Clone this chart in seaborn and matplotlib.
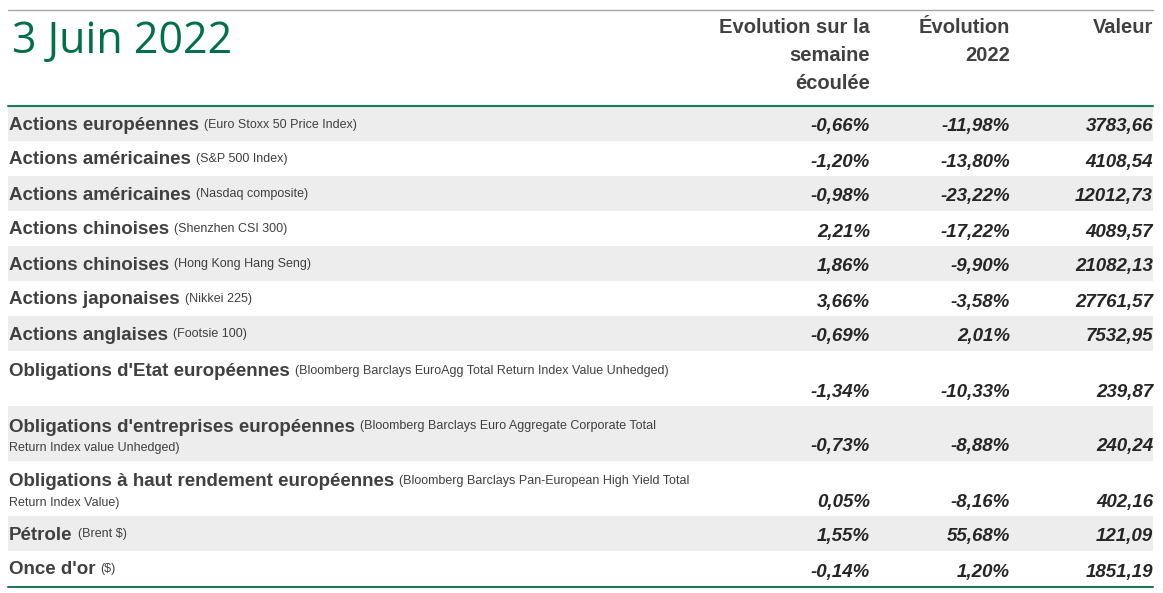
import matplotlib
matplotlib.use("Agg")
import matplotlib.pyplot as plt
import seaborn as sns

sns.set_style("white")
FONT = "Liberation Sans"

title = "3 Juin 2022"
headers = ["Evolution sur la\nsemaine\nécoulée", "Évolution\n2022", "Valeur"]
names = ["Actions européennes", "Actions américaines", "Actions américaines", "Actions chinoises",
         "Actions chinoises", "Actions japonaises", "Actions anglaises", "Obligations d'Etat européennes",
         "Obligations d'entreprises européennes", "Obligations à haut rendement européennes",
         "Pétrole", "Once d'or"]
details = ["(Euro Stoxx 50 Price Index)", "(S&P 500 Index)", "(Nasdaq composite)", "(Shenzhen CSI 300)",
           "(Hong Kong Hang Seng)", "(Nikkei 225)", "(Footsie 100)",
           "(Bloomberg Barclays EuroAgg Total Return Index Value Unhedged)",
           "(Bloomberg Barclays Euro Aggregate Corporate Total|Return Index value Unhedged)",
           "(Bloomberg Barclays Pan-European High Yield Total|Return Index Value)",
           "(Brent $)", "($)"]
weekly = ["-0,66%", "-1,20%", "-0,98%", "2,21%", "1,86%", "3,66%", "-0,69%", "-1,34%", "-0,73%", "0,05%", "1,55%", "-0,14%"]
ytd = ["-11,98%", "-13,80%", "-23,22%", "-17,22%", "-9,90%", "-3,58%", "2,01%", "-10,33%", "-8,88%", "-8,16%", "55,68%", "1,20%"]
values = ["3783,66", "4108,54", "12012,73", "4089,57", "21082,13", "27761,57", "7532,95", "239,87", "240,24", "402,16", "121,09", "1851,19"]

row_edges = [107, 141, 176, 211, 246, 281, 316, 351, 406, 461, 516, 551, 586]
shaded = [True, False, True, False, True, False, True, False, True, False, True, False]

fig = plt.figure(figsize=(11.63, 5.93), dpi=100)
ax = fig.add_axes([0, 0, 1, 1])
ax.set_xlim(0, 1163)
ax.set_ylim(593, 0)
ax.axis("off")

green = "#1a7a5a"
ax.plot([8, 1153], [10, 10], color="#a6a6a6", lw=1)
ax.plot([8, 1153], [106, 106], color=green, lw=1.5)
ax.plot([8, 1153], [587, 587], color=green, lw=1.5)
ax.text(12, 42, title, fontsize=31, color="#00704a", family="Open Sans", va="center")
for hx, h in zip([870, 1010, 1153], headers):
    ax.text(hx, 18, h, ha="right", va="top", fontsize=14.5, fontweight="bold", color="#404040",
            family=FONT, linespacing=1.6)

fig.canvas.draw()
r = fig.canvas.get_renderer()
tc = "#404040"
for i in range(len(names)):
    top, bot = row_edges[i], row_edges[i + 1]
    if shaded[i]:
        ax.axhspan(top, bot, xmin=8 / 1163, xmax=1153 / 1163, color="#ededed", lw=0)
    tall = bot - top > 40
    ly = top + 19 if not tall else top + 21
    t = ax.text(9, ly, names[i], fontsize=13.5, fontweight="bold", color=tc, family=FONT, va="center")
    bb = t.get_window_extent(r)
    parts = details[i].split("|")
    ax.text(bb.x1 + 5, ly - 1, parts[0], fontsize=9, color=tc, family=FONT, va="center")
    if len(parts) > 1:
        ax.text(9, ly + 21, parts[1], fontsize=9, color=tc, family=FONT, va="center")
    vy = bot - 14
    for hx, v in zip([870, 1010, 1153], [weekly[i], ytd[i], values[i]]):
        ax.text(hx, vy, v, ha="right", va="center", fontsize=13.5, fontweight="bold",
                style="italic", color="#262626", family=FONT)

fig.savefig("out.png", dpi=100, facecolor="white")
